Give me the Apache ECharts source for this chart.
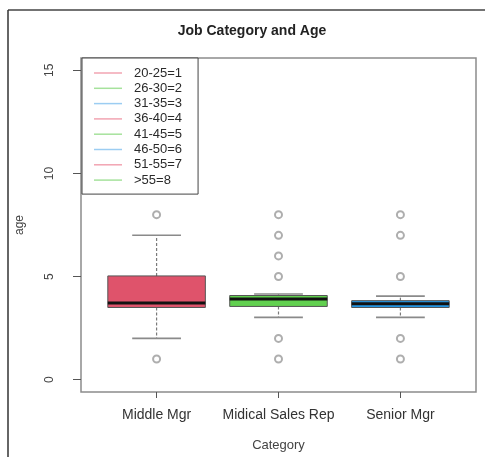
<!DOCTYPE html>
<html>
<head>
<meta charset="utf-8">
<title>Job Category and Age</title>
<script src="https://cdn.jsdelivr.net/npm/echarts@6/dist/echarts.min.js"></script>
<style>
  html, body { margin: 0; padding: 0; background: #fff; }
  #chart { width: 485px; height: 457px; }
</style>
</head>
<body>
<div id="chart"></div>
<script>
// Categories on the x axis
const categories = ['Middle Mgr', 'Midical Sales Rep', 'Senior Mgr'];

// Five-number summaries per category (age group codes)
const lowerWhisker = [2, 3.02, 3.02];
const lowerQuartile = [3.5, 3.55, 3.5];
const medians = [3.72, 3.91, 3.68];
const upperQuartile = [5.03, 4.08, 3.83];
const upperWhisker = [7, 4.15, 4.05];

// Points beyond the whiskers
const outliersMiddle = [1, 8];
const outliersSales = [1, 2, 5, 6, 7, 8];
const outliersSenior = [1, 2, 5, 7, 8];

// Box fill colours
const boxColors = ['#DF536B', '#61D04F', '#2297E6'];

// Legend: age bands and their codes
const legendLabels = ['20-25=1', '26-30=2', '31-35=3', '36-40=4', '41-45=5', '46-50=6', '51-55=7', '>55=8'];
const legendColors = ['#f2a4b2', '#a6e29c', '#9ccdf2', '#f2a4b2', '#a6e29c', '#9ccdf2', '#f2a4b2', '#a6e29c'];

// Y axis tick values
const yTicks = [0, 5, 10, 15];

const FONT = "'Liberation Sans', Arial, Helvetica, sans-serif";

const boxData = categories.map((c, i) => [
  i + 1, lowerWhisker[i], lowerQuartile[i], medians[i], upperQuartile[i], upperWhisker[i], i
]);

const outlierData = [];
[outliersMiddle, outliersSales, outliersSenior].forEach((arr, i) => {
  arr.forEach(v => outlierData.push([i + 1, v]));
});

function renderBox(params, api) {
  const x = api.value(0);
  const lo = api.coord([x, api.value(1)]);
  const q1 = api.coord([x, api.value(2)]);
  const md = api.coord([x, api.value(3)]);
  const q3 = api.coord([x, api.value(4)]);
  const hi = api.coord([x, api.value(5)]);
  const idx = api.value(6);
  const halfBox = (api.size([0.8, 0])[0]) / 2;
  const halfCap = (api.size([0.4, 0])[0]) / 2;
  const cx = lo[0];
  const whisker = { stroke: '#7a7a7a', lineWidth: 1.2, lineDash: [3, 2] };
  const cap = { stroke: '#8a8a8a', lineWidth: 1.6 };
  return {
    type: 'group',
    children: [
      { type: 'line', shape: { x1: cx, y1: q3[1], x2: cx, y2: hi[1] }, style: whisker },
      { type: 'line', shape: { x1: cx, y1: q1[1], x2: cx, y2: lo[1] }, style: whisker },
      { type: 'line', shape: { x1: cx - halfCap, y1: hi[1], x2: cx + halfCap, y2: hi[1] }, style: cap },
      { type: 'line', shape: { x1: cx - halfCap, y1: lo[1], x2: cx + halfCap, y2: lo[1] }, style: cap },
      {
        type: 'rect',
        shape: { x: cx - halfBox, y: q3[1], width: halfBox * 2, height: q1[1] - q3[1] },
        style: { fill: boxColors[idx], stroke: '#555', lineWidth: 1 }
      },
      { type: 'line', shape: { x1: cx - halfBox, y1: md[1], x2: cx + halfBox, y2: md[1] }, style: { stroke: '#111', lineWidth: 3 } }
    ]
  };
}

const legendSeries = legendLabels.map((name, i) => ({
  name: name,
  type: 'line',
  data: [],
  color: legendColors[i],
  lineStyle: { color: legendColors[i] }
}));

const chart = echarts.init(document.getElementById('chart'), null, { renderer: 'canvas' });

chart.setOption({
  backgroundColor: '#fff',
  animation: false,
  title: {
    text: 'Job Category and Age',
    left: 247,
    top: 19,
    textAlign: 'center',
    textStyle: { fontFamily: FONT, fontSize: 14, fontWeight: 'bold', color: '#222' }
  },
  legend: {
    orient: 'vertical',
    left: 82,
    top: 58,
    padding: [8, 16, 7, 12],
    itemGap: 1.3,
    itemWidth: 28,
    itemHeight: 1.5,
    icon: 'rect',
    selectedMode: false,
    borderColor: '#444',
    borderWidth: 1,
    backgroundColor: '#fff',
    textStyle: { fontFamily: FONT, fontSize: 13, color: '#2a2a2a', lineHeight: 14, padding: [0, 0, 0, 7] },
    data: legendLabels
  },
  grid: {
    left: 81, top: 58, width: 395, height: 334,
    show: true, borderColor: '#8c8c8c', borderWidth: 1.5, backgroundColor: 'transparent'
  },
  xAxis: {
    type: 'value',
    min: 0.38,
    max: 3.62,
    name: 'Category',
    nameLocation: 'middle',
    nameGap: 47,
    nameTextStyle: { fontFamily: FONT, fontSize: 13, color: '#444' },
    axisLine: { show: false, onZero: false },
    splitLine: { show: false },
    axisTick: { show: true, length: 6, customValues: [1, 2, 3], lineStyle: { color: '#555' } },
    axisLabel: {
      customValues: [1, 2, 3],
      margin: 16,
      fontFamily: FONT, fontSize: 14, color: '#333',
      formatter: v => categories[Math.round(v) - 1]
    }
  },
  yAxis: {
    type: 'value',
    min: -0.6,
    max: 15.6,
    name: 'age',
    nameLocation: 'middle',
    nameGap: 55,
    nameRotate: 90,
    nameTextStyle: { fontFamily: FONT, fontSize: 12, color: '#444' },
    axisLine: { show: false, onZero: false },
    splitLine: { show: false },
    axisTick: { show: true, length: 8, customValues: yTicks, lineStyle: { color: '#555' } },
    axisLabel: {
      customValues: yTicks,
      rotate: 90,
      margin: 25,
      fontFamily: FONT, fontSize: 12, color: '#444'
    }
  },
  graphic: [
    { type: 'line', shape: { x1: 8, y1: 10, x2: 485, y2: 10 }, style: { stroke: '#444', lineWidth: 1.5 }, z: 100 },
    { type: 'line', shape: { x1: 8, y1: 10, x2: 8, y2: 457 }, style: { stroke: '#333', lineWidth: 1.5 }, z: 100 }
  ],
  series: [
    {
      type: 'custom',
      name: 'boxes',
      renderItem: renderBox,
      data: boxData,
      encode: { x: 0, y: [1, 2, 3, 4, 5] },
      z: 2
    },
    {
      type: 'scatter',
      name: 'outliers',
      data: outlierData,
      symbol: 'emptyCircle',
      symbolSize: 7,
      itemStyle: { color: '#9a9a9a', borderColor: '#9a9a9a', borderWidth: 1 },
      z: 3
    }
  ].concat(legendSeries)
});
</script>
</body>
</html>
